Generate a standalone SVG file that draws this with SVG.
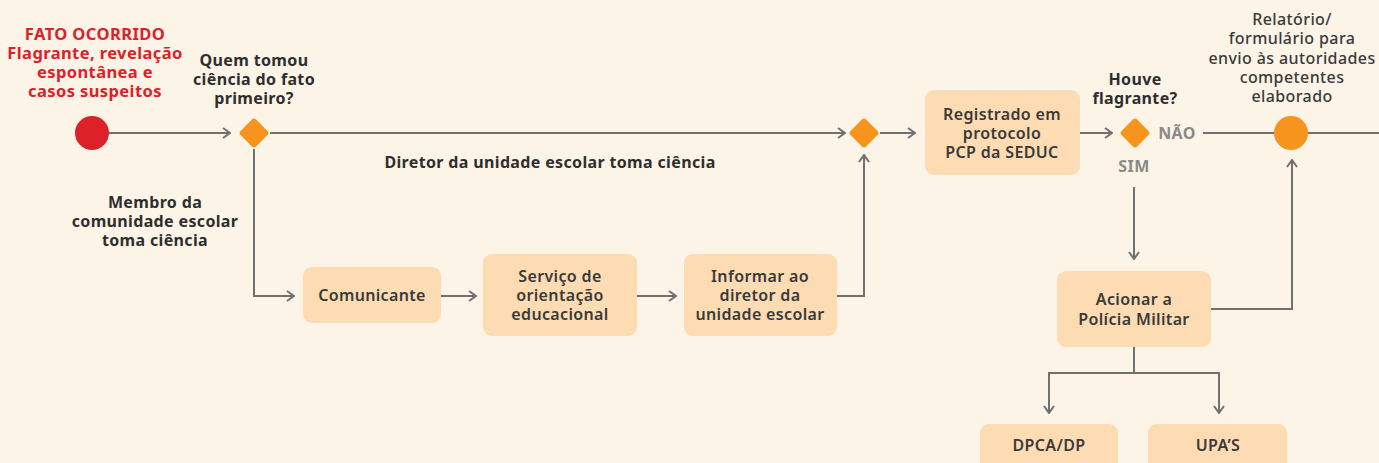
<svg xmlns="http://www.w3.org/2000/svg" width="1379" height="463" viewBox="0 0 1379 463">
<defs>
<marker id="arr" viewBox="0 0 10 12" refX="9" refY="6" markerWidth="10" markerHeight="12" markerUnits="userSpaceOnUse" orient="auto">
<path d="M2,1 L9,6 L2,11" fill="none" stroke="#707070" stroke-width="2"/>
</marker>
<style>
.ln{fill:none;stroke:#707070;stroke-width:2}
.box{fill:#fddcb3}
.bt{font-family:"Noto Sans","Open Sans",sans-serif;font-size:16px;letter-spacing:0.35px;font-weight:600;fill:#3a3a3a;text-anchor:middle}
.lb{font-family:"Noto Sans","Open Sans",sans-serif;font-size:16px;letter-spacing:0.35px;font-weight:700;fill:#2e2e2e;text-anchor:middle}
.rd{font-family:"Noto Sans","Open Sans",sans-serif;font-size:16.5px;letter-spacing:0.4px;font-weight:700;fill:#dc2128;text-anchor:middle}
.gy{font-family:"Noto Sans","Open Sans",sans-serif;font-size:16px;letter-spacing:0.4px;font-weight:700;fill:#8a8a8a;text-anchor:middle}
.md{font-family:"Noto Sans","Open Sans",sans-serif;font-size:16px;letter-spacing:0.4px;font-weight:500;fill:#3a3a3a;text-anchor:middle}
.dm{fill:#f7941d}
</style>
</defs>
<rect width="1379" height="463" fill="#fdf4e8"/>
<g id="connectors">
<line class="ln" x1="109" y1="133" x2="230" y2="133" marker-end="url(#arr)"/>
<line class="ln" x1="270" y1="133" x2="845" y2="133" marker-end="url(#arr)"/>
<line class="ln" x1="880" y1="133" x2="915" y2="133" marker-end="url(#arr)"/>
<line class="ln" x1="1080" y1="133" x2="1112" y2="133" marker-end="url(#arr)"/>
<line class="ln" x1="1203" y1="133" x2="1274" y2="133"/>
<line class="ln" x1="1308" y1="133" x2="1379" y2="133"/>
<line class="ln" x1="1134" y1="187" x2="1134" y2="259" marker-end="url(#arr)"/>
<polyline class="ln" points="1211,309 1292,309 1292,160" marker-end="url(#arr)"/>
<polyline class="ln" points="1134,347 1134,373 1049,373 1049,413" marker-end="url(#arr)"/>
<polyline class="ln" points="1134,373 1219,373 1219,413" marker-end="url(#arr)"/>
<polyline class="ln" points="254,149 254,296 294,296" marker-end="url(#arr)"/>
<line class="ln" x1="441" y1="296" x2="476" y2="296" marker-end="url(#arr)"/>
<line class="ln" x1="637" y1="296" x2="676" y2="296" marker-end="url(#arr)"/>
<polyline class="ln" points="837,296 864,296 864,155" marker-end="url(#arr)"/>
</g>
<g id="start">
<circle cx="92" cy="133" r="17" fill="#dc2128"/>
<text class="rd" x="95" y="40">FATO OCORRIDO</text>
<text class="rd" x="95" y="59">Flagrante, revelação</text>
<text class="rd" x="95" y="78">espontânea e</text>
<text class="rd" x="95" y="97">casos suspeitos</text>
</g>
<g id="decision1">
<rect class="dm" x="243" y="122" width="22" height="22" rx="3" transform="rotate(45 254 133)"/>
<text class="lb" x="254" y="66">Quem tomou</text>
<text class="lb" x="254" y="85">ciência do fato</text>
<text class="lb" x="254" y="104">primeiro?</text>
</g>
<g id="label-diretor">
<text class="lb" x="550" y="168">Diretor da unidade escolar toma ciência</text>
</g>
<g id="label-membro">
<text class="lb" x="155" y="208">Membro da</text>
<text class="lb" x="155" y="227">comunidade escolar</text>
<text class="lb" x="155" y="246">toma ciência</text>
</g>
<g id="decision2">
<rect class="dm" x="853" y="122" width="22" height="22" rx="3" transform="rotate(45 864 133)"/>
</g>
<g id="registrado">
<rect class="box" x="925" y="90" width="155" height="85" rx="9"/>
<text class="bt" x="1002" y="120">Registrado em</text>
<text class="bt" x="1002" y="139">protocolo</text>
<text class="bt" x="1002" y="158">PCP da SEDUC</text>
</g>
<g id="decision3">
<rect class="dm" x="1124" y="122" width="22" height="22" rx="3" transform="rotate(45 1135 133)"/>
<text class="lb" x="1135" y="85">Houve</text>
<text class="lb" x="1135" y="104">flagrante?</text>
<text class="gy" x="1177" y="139">NÃO</text>
<text class="gy" x="1134" y="172">SIM</text>
</g>
<g id="relatorio">
<circle cx="1291" cy="133" r="17" fill="#f7941d"/>
<text class="md" x="1292" y="25">Relatório/</text>
<text class="md" x="1292" y="44">formulário para</text>
<text class="md" x="1292" y="64">envio às autoridades</text>
<text class="md" x="1292" y="83">competentes</text>
<text class="md" x="1292" y="102">elaborado</text>
</g>
<g id="comunicante">
<rect class="box" x="303" y="267" width="138" height="56" rx="9"/>
<text class="bt" x="372" y="301">Comunicante</text>
</g>
<g id="servico">
<rect class="box" x="483" y="254" width="154" height="82" rx="9"/>
<text class="bt" x="560" y="282">Serviço de</text>
<text class="bt" x="560" y="301">orientação</text>
<text class="bt" x="560" y="320">educacional</text>
</g>
<g id="informar">
<rect class="box" x="684" y="254" width="153" height="82" rx="9"/>
<text class="bt" x="760" y="282">Informar ao</text>
<text class="bt" x="760" y="301">diretor da</text>
<text class="bt" x="760" y="320">unidade escolar</text>
</g>
<g id="policia">
<rect class="box" x="1057" y="271" width="154" height="76" rx="9"/>
<text class="bt" x="1134" y="305">Acionar a</text>
<text class="bt" x="1134" y="325">Polícia Militar</text>
</g>
<g id="dpca">
<rect class="box" x="980" y="424" width="138" height="60" rx="9"/>
<text class="bt" x="1049" y="451">DPCA/DP</text>
</g>
<g id="upas">
<rect class="box" x="1148" y="424" width="139" height="60" rx="9"/>
<text class="bt" x="1218" y="451">UPA’S</text>
</g>
</svg>
